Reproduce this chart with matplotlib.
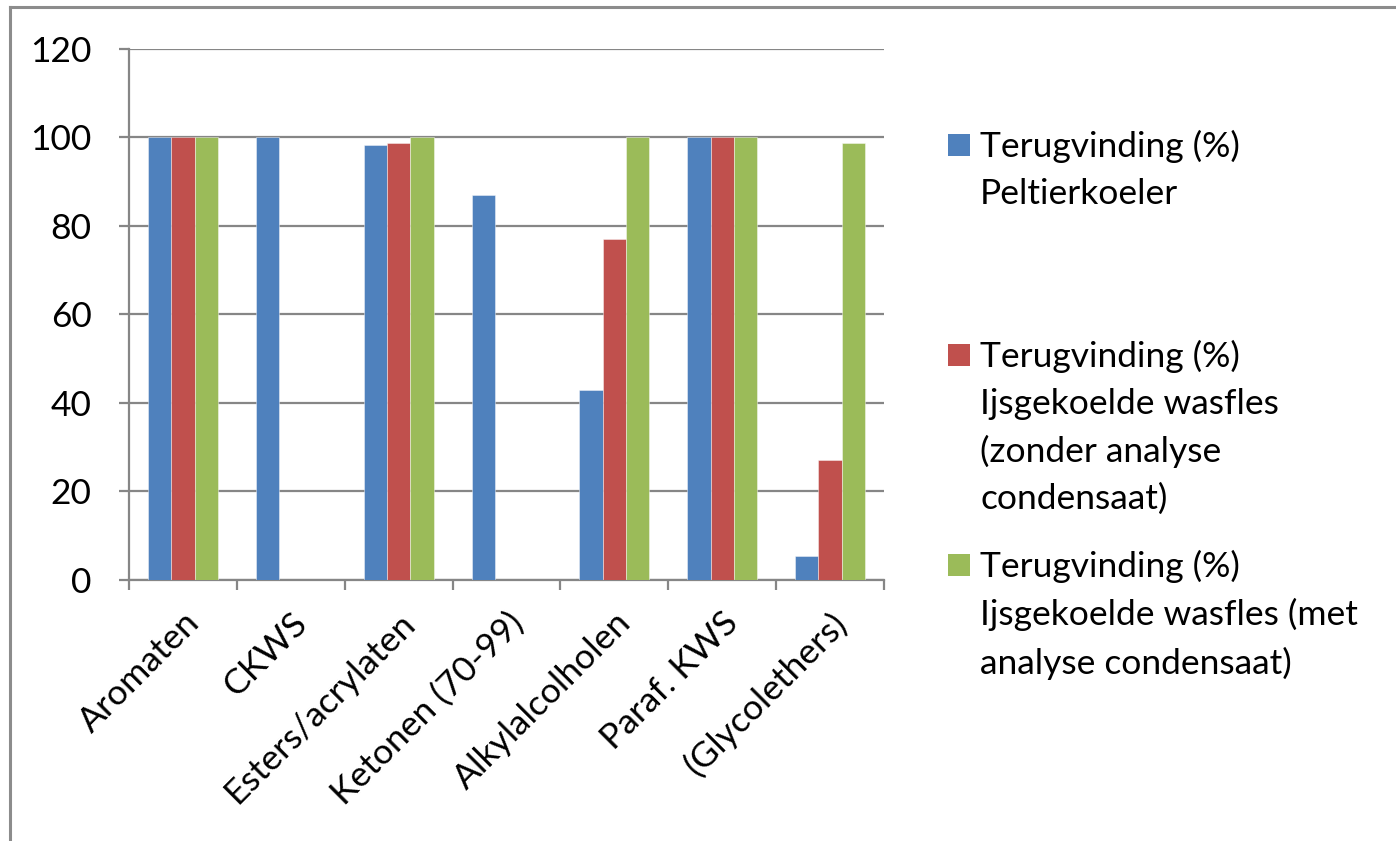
import matplotlib
matplotlib.use("Agg")
import matplotlib.pyplot as plt
from matplotlib.patches import Rectangle
from matplotlib.lines import Line2D
import numpy as np

plt.rcParams['font.family'] = ['Lato', 'DejaVu Sans']

categories = ["Aromaten", "CKWS", "Esters/acrylaten", "Ketonen (70-99)",
              "Alkylalcolholen", "Paraf. KWS", "(Glycolethers)"]
peltier = [100, 100, 98.2, 87, 43, 100, 5.4]
zonder = [100, 0, 98.7, 0, 77, 100, 27.1]
met = [100, 0, 100, 0, 100, 100, 98.7]
series_names = [
    "Terugvinding (%)\nPeltierkoeler",
    "Terugvinding (%)\nIjsgekoelde wasfles\n(zonder analyse\ncondensaat)",
    "Terugvinding (%)\nIjsgekoelde wasfles (met\nanalyse condensaat)",
]
colors = ["#4F81BD", "#C0504D", "#9BBB59"]
yticks = [0, 20, 40, 60, 80, 100, 120]

W, H = 1396, 841
fig = plt.figure(figsize=(W / 100, H / 100), dpi=100)
fig.patch.set_facecolor("white")

# outer chart-area frame (left and top edges)
frame_col = "#8C8C8C"
fig.add_artist(Line2D([10 / W, 10 / W], [1 - 7 / H, 0], color=frame_col, lw=2.2,
                      transform=fig.transFigure))
fig.add_artist(Line2D([10 / W, 1], [1 - 7 / H, 1 - 7 / H], color=frame_col, lw=2.2,
                      transform=fig.transFigure))

x0, x1 = 129, 884
y_top, y_bot = 48.5, 580
ax = fig.add_axes([x0 / W, 1 - y_bot / H, (x1 - x0) / W, (y_bot - y_top) / H])

x = np.arange(len(categories))
bw = 0.216
for i, (vals, c) in enumerate(zip([peltier, zonder, met], colors)):
    ax.bar(x + (i - 1) * bw, vals, width=bw, color=c, edgecolor=(1, 1, 1, 0.5),
           linewidth=0.6, zorder=3)

ax.set_xlim(-0.5, len(categories) - 0.5)
ax.set_ylim(0, 120)
ax.set_yticks(yticks)
ax.set_yticklabels([str(v) for v in yticks], fontsize=25.5)

grid_col = "#868686"
ax.yaxis.grid(True, color=grid_col, linewidth=1.6, zorder=0)
ax.set_axisbelow(True)

for s in ["top", "right"]:
    ax.spines[s].set_visible(False)
for s in ["left", "bottom"]:
    ax.spines[s].set_color(grid_col)
    ax.spines[s].set_linewidth(1.6)

ax.tick_params(axis="y", length=7, width=1.6, color=grid_col, pad=20)

ax.set_xticks(x)
ax.set_xticklabels(categories, rotation=45, ha="right", rotation_mode="anchor",
                   fontsize=25.5)
ax.tick_params(axis="x", which="major", length=0, pad=19)
ax.set_xticks(np.arange(-0.5, len(categories) + 0.5, 1), minor=True)
ax.tick_params(axis="x", which="minor", length=7, width=1.6, color=grid_col)

# legend drawn as coloured squares with wrapped labels
entry_tops = [145, 355, 565]
for name, c, yc in zip(series_names, colors, entry_tops):
    fig.add_artist(Rectangle((948 / W, 1 - (yc + 11) / H), 22 / W, 22 / H,
                             facecolor=c, edgecolor="none", transform=fig.transFigure))
    fig.text(980 / W, 1 - (yc - 15) / H, name, fontsize=25.5, va="top", ha="left",
             linespacing=1.56)

fig.savefig("out.png", dpi=100)
